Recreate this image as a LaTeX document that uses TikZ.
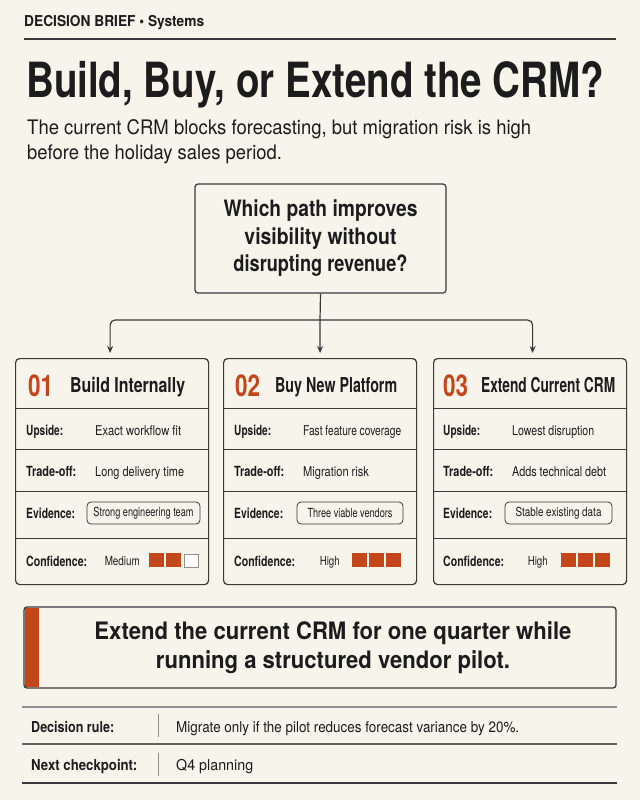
\documentclass[tikz,border=0pt]{standalone}
\usepackage{fontspec}
\usepackage{graphicx}
\setmainfont{TeX Gyre Heros}[FakeStretch=0.82]
\newfontfamily\titlefont{TeX Gyre Heros}[FakeStretch=0.80]
\newfontfamily\widefont{TeX Gyre Heros}[FakeStretch=0.92]
\usetikzlibrary{arrows.meta}
\definecolor{bg}{HTML}{F7F4EC}
\definecolor{ink}{HTML}{1C1C1C}
\definecolor{rulec}{HTML}{3A3A3A}
\definecolor{accent}{HTML}{C4471C}
\definecolor{soft}{HTML}{8F8F8F}
\newcommand\setfs[2]{\fontsize{#1}{#2}\selectfont}
\newcommand\fitw[2]{\resizebox{#1pt}{\height}{#2}}
\newcommand\mkframe[2]{%
  \begin{scope}[shift={(#2,358)}]
    \node[card, anchor=north west] (#1) at (0,0) {};
    \draw[div] (0,50) -- (193,50);
    \draw[div] (0,91) -- (193,91);
    \draw[div] (0,133) -- (193,133);
    \draw[div] (0,180) -- (193,180);
  \end{scope}}
\newcommand\mklabels[2]{%
  \node[labtxt] (#1la) at (#2,435) {\fitw{37}{Upside:}};
  \node[labtxt] (#1lb) at (#2,476) {\fitw{50}{Trade-off:}};
  \node[labtxt] (#1lc) at (#2,518) {\fitw{49}{Evidence:}};
  \node[labtxt] (#1ld) at (#2,566) {\fitw{61}{Confidence:}};}
\begin{document}
\begin{tikzpicture}[x=1pt,y=-1pt,
  every node/.style={inner sep=0pt, text=ink},
  txt/.style={anchor=base west},
  card/.style={draw=rulec, line width=1.2pt, rounded corners=4pt, minimum width=193pt, minimum height=226pt},
  div/.style={draw=rulec, line width=0.9pt},
  numtxt/.style={txt, font=\setfs{30}{32}\bfseries, text=accent},
  ttltxt/.style={txt, font=\setfs{20.5}{24}\bfseries},
  labtxt/.style={txt, font=\setfs{14}{16}\bfseries},
  valtxt/.style={txt, font=\setfs{13.5}{16}},
  evid/.style={draw=rulec, line width=0.8pt, rounded corners=4pt, minimum height=22pt, font=\setfs{12.5}{15}},
  conftxt/.style={anchor=base east, font=\setfs{12.5}{15}},
  conn/.style={draw=rulec, line width=1.2pt},
  arrow/.style={conn, rounded corners=5pt, -{Stealth[length=7pt,width=6pt]}, shorten >=5pt},
  bar/.style={minimum width=15pt, minimum height=14pt, anchor=north west},
]
\useasboundingbox (0,0) rectangle (640,800);
\fill[bg] (0,0) rectangle (640,800);

% header
\node[txt, font=\setfs{15}{18}\bfseries] (hdr) at (24,27) {\fitw{180}{DECISION BRIEF • Systems}};
\draw[rulec, line width=1.2pt] (24,39) -- (616,39);
\node[txt, font=\titlefont\setfs{48.5}{52}\bfseries] (title) at (26,97) {\fitw{578}{Build, Buy, or Extend the CRM?}};
\node[txt, font=\widefont\setfs{20}{24}] (sub1) at (27,134) {\fitw{504}{The current CRM blocks forecasting, but migration risk is high}};
\node[txt, font=\widefont\setfs{20}{24}] (sub2) at (27,159) {before the holiday sales period.};

% question
\node[draw=rulec, line width=1.2pt, rounded corners=3pt, minimum width=251pt, minimum height=109pt,
      align=center, font=\setfs{22.5}{27.5}\bfseries] (q) at (320.5,238.5)
      {\fitw{194}{Which path improves}\\\fitw{152}{visibility without}\\\fitw{174}{disrupting revenue?}};

% cards
\mkframe{c1}{15}
\mkframe{c2}{223}
\mkframe{c3}{433}

\node[numtxt] (c1num) at (28,396) {\fitw{25}{01}};
\node[numtxt] (c2num) at (235,396) {\fitw{25}{02}};
\node[numtxt] (c3num) at (443,396) {\fitw{25}{03}};
\node[ttltxt] (c1ttl) at (70,392.5) {\fitw{115}{Build Internally}};
\node[ttltxt] (c2ttl) at (275,392.5) {\fitw{122}{Buy New Platform}};
\node[ttltxt] (c3ttl) at (481,392.5) {\fitw{134}{Extend Current CRM}};

\mklabels{c1}{26}
\mklabels{c2}{234}
\mklabels{c3}{443}

\node[valtxt] (c1va) at (95,435) {\fitw{86}{Exact workflow fit}};
\node[valtxt] (c1vb) at (95,476) {\fitw{89}{Long delivery time}};
\node[valtxt] (c2va) at (303,435) {\fitw{98}{Fast feature coverage}};
\node[valtxt] (c2vb) at (303,476) {Migration risk};
\node[valtxt] (c3va) at (512,435) {\fitw{82}{Lowest disruption}};
\node[valtxt] (c3vb) at (512,476) {\fitw{94}{Adds technical debt}};

\node[evid, minimum width=113pt] (c1ev) at (143.5,513) {\fitw{100}{Strong engineering team}};
\node[evid, minimum width=106pt] (c2ev) at (350,513) {\fitw{85}{Three viable vendors}};
\node[evid, minimum width=107pt] (c3ev) at (558.5,513) {\fitw{86}{Stable existing data}};

\node[conftxt] (c1conf) at (140,565.5) {\fitw{35}{Medium}};
\node[conftxt] (c2conf) at (340,565.5) {\fitw{20}{High}};
\node[conftxt] (c3conf) at (548,565.5) {\fitw{20}{High}};

% confidence bars
\node[bar, fill=accent] (c1b1) at (149,553) {};
\node[bar, fill=accent] (c1b2) at (166,553) {};
\node[bar, fill=white, draw=soft, line width=0.8pt, minimum width=14pt, minimum height=13pt] (c1b3) at (183.5,553.5) {};
\node[bar, fill=accent] (c2b1) at (352,553) {};
\node[bar, fill=accent] (c2b2) at (369,553) {};
\node[bar, fill=accent] (c2b3) at (386,553) {};
\node[bar, fill=accent] (c3b1) at (561,553) {};
\node[bar, fill=accent] (c3b2) at (578,553) {};
\node[bar, fill=accent] (c3b3) at (595,553) {};

% connectors
\coordinate (j) at (320,320);
\draw[conn] (q.south) -- (j);
\draw[arrow] (j) -| ([xshift=-2pt]c1.north);
\draw[arrow] (j) -- (c2.north);
\draw[arrow] (j) -| ([xshift=2.5pt]c3.north);

% recommendation
\fill[accent] (24.6,607.6) rectangle (39,687.4);
\node[draw=rulec, line width=1.3pt, rounded corners=3pt, minimum width=592pt, minimum height=81pt] (rec) at (320,647.5) {};
\node[align=center, font=\widefont\setfs{24}{29}\bfseries] (rectxt) at (333,648) {\fitw{477}{Extend the current CRM for one quarter while}\\running a structured vendor pilot.};

% table
\draw[soft, line width=1.8pt] (22,707) -- (617,707);
\draw[rulec!80, line width=1.2pt] (22,744) -- (617,744);
\draw[rulec, line width=1.5pt] (22,783) -- (617,783);
\node[txt, font=\setfs{15}{18}\bfseries] (dr) at (31,732) {\fitw{83}{Decision rule:}};
\node[txt, font=\setfs{15}{18}] (drv) at (176,732) {\fitw{343}{Migrate only if the pilot reduces forecast variance by 20\%.}};
\node[txt, font=\setfs{15}{18}\bfseries] (nc) at (31,770) {\fitw{106}{Next checkpoint:}};
\node[txt, font=\setfs{15}{18}] (ncv) at (176,770) {\fitw{77}{Q4 planning}};
\draw[soft, line width=1pt] (158,714) -- (158,737);
\draw[soft, line width=1pt] (158,753) -- (158,776);
\end{tikzpicture}
\end{document}
